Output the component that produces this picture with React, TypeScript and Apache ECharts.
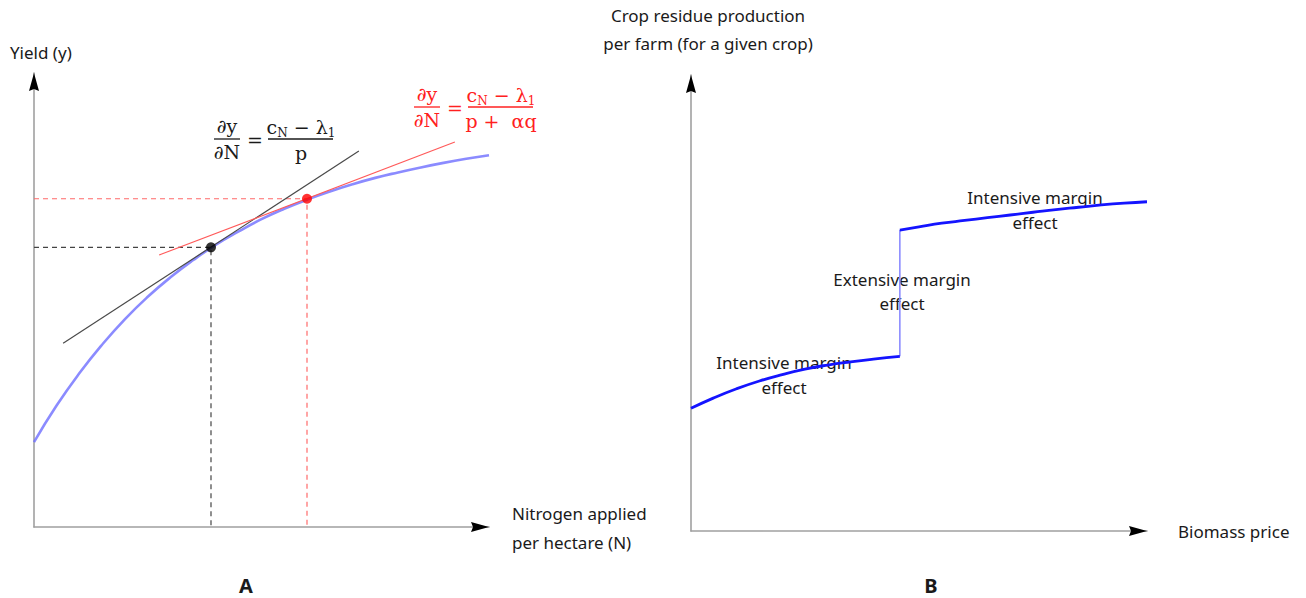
import React, { useEffect, useRef } from "react";
import * as echarts from "echarts";

// ---------- Panel A: yield response to nitrogen ----------
const yieldCurveX = [0, 0.5, 1, 1.5, 2, 2.5, 3, 3.5, 4, 4.5, 5, 5.5, 6, 6.5, 7, 7.5, 8, 8.5, 9, 9.5, 10];
const yieldCurveY = [1.87, 2.68, 3.39, 4.02, 4.58, 5.07, 5.5, 5.88, 6.22, 6.51, 6.78, 7.01, 7.21, 7.39, 7.55, 7.69, 7.81, 7.92, 8.02, 8.11, 8.19];
const blackPoint = [3.89, 6.16];
const redPoint = [6.0, 7.23];
const blackTangentX = [0.64, 7.14];
const blackTangentY = [4.05, 8.28];
const redTangentX = [2.75, 9.25];
const redTangentY = [5.99, 8.48];

// ---------- Panel B: crop residue supply ----------
const lowerCurveX = [0, 0.5, 1, 1.5, 2, 2.5, 3, 3.5, 4, 4.58];
const lowerCurveY = [2.69, 2.92, 3.12, 3.29, 3.43, 3.55, 3.64, 3.71, 3.77, 3.83];
const jumpX = [4.58, 4.58];
const jumpY = [3.83, 6.6];
const upperCurveX = [4.58, 5, 5.5, 6, 6.5, 7, 7.5, 8, 8.5, 9, 9.5, 10];
const upperCurveY = [6.6, 6.67, 6.75, 6.81, 6.87, 6.93, 6.99, 7.05, 7.1, 7.15, 7.19, 7.22];

const labelsA = {
  yAxis: "Yield (y)",
  xAxis1: "Nitrogen applied",
  xAxis2: "per hectare (N)",
  panel: "A",
};
const labelsB = {
  yAxis1: "Crop residue production",
  yAxis2: "per farm (for a given crop)",
  xAxis: "Biomass price",
  intensive: "Intensive margin",
  extensive: "Extensive margin",
  effect: "effect",
  panel: "B",
};

const zip = (xs: number[], ys: number[]) => xs.map((x, i) => [x, ys[i]]);

const SANS = '"Noto Sans", sans-serif';
const MATH = '"DejaVu Serif", serif';
const TXT = "#1a1a1a";
const MFS = 19;

function label(text: string, x: number, y: number, align = "left", size = 17, weight = "normal") {
  return {
    type: "text",
    x,
    y,
    z: 0,
    style: {
      text,
      fill: TXT,
      font: `${weight} ${size}px ${SANS}`,
      textAlign: align,
      textVerticalAlign: "middle",
    },
  };
}

function mathText(text: string, x: number, y: number, color: string, rich = false) {
  const el: any = {
    type: "text",
    x,
    y,
    z: 10,
    style: {
      text,
      fill: color,
      font: `${MFS}px ${MATH}`,
      textAlign: "center",
      textVerticalAlign: "middle",
    },
  };
  if (rich) {
    el.style.rich = {
      m: { fontSize: MFS, fontFamily: MATH, fill: color, lineHeight: 24, verticalAlign: "middle" },
      s: { fontSize: 12, fontFamily: MATH, fill: color, lineHeight: 24, verticalAlign: "bottom" },
    };
  }
  return el;
}

function bar(x1: number, x2: number, y: number, color: string) {
  return {
    type: "line",
    z: 10,
    shape: { x1, y1: y, x2, y2: y },
    style: { stroke: color, lineWidth: 1.3 },
  };
}

function formula(cx: number, cy: number, color: string, den: string) {
  // cx: centre of the left fraction, cy: fraction bar y
  return [
    mathText("∂y", cx, cy - 13, color),
    bar(cx - 13, cx + 13, cy, color),
    mathText("∂N", cx, cy + 13, color),
    mathText("=", cx + 28, cy + 1, color),
    mathText("{m|c}{s|N}{m| − λ}{s|1}", cx + 74, cy - 12, color, true),
    bar(cx + 41, cx + 106, cy, color),
    mathText(den, cx + 74, cy + 14, color),
  ];
}

const axisBase = (gridIndex: number) => ({
  type: "value",
  gridIndex,
  min: 0,
  max: 10,
  axisTick: { show: false },
  axisLabel: { show: false },
  splitLine: { show: false },
});

const mainAxisLine = { show: true, onZero: false, lineStyle: { color: "#a0a0a0", width: 1.6 } };
const arrowAxisLine = {
  show: true,
  onZero: false,
  symbol: ["none", "path://M5 0 L10 18 L5 16 L0 18 Z"],
  symbolSize: [10, 18],
  symbolOffset: [0, -9],
  lineStyle: { color: "#000", width: 0 },
};

const option: any = {
  animation: false,
  backgroundColor: "#fff",
  grid: [
    { left: 34, top: 73, width: 455, height: 454 },
    { left: 691, top: 75, width: 456, height: 456 },
  ],
  xAxis: [
    { ...axisBase(0), position: "bottom", axisLine: mainAxisLine },
    { ...axisBase(0), position: "bottom", axisLine: arrowAxisLine },
    { ...axisBase(1), position: "bottom", axisLine: mainAxisLine },
    { ...axisBase(1), position: "bottom", axisLine: arrowAxisLine },
  ],
  yAxis: [
    { ...axisBase(0), position: "left", axisLine: mainAxisLine },
    { ...axisBase(0), position: "left", axisLine: arrowAxisLine },
    { ...axisBase(1), position: "left", axisLine: mainAxisLine },
    { ...axisBase(1), position: "left", axisLine: arrowAxisLine },
  ],
  series: [
    {
      type: "line",
      xAxisIndex: 0,
      yAxisIndex: 0,
      data: [[0, blackPoint[1]], blackPoint, [blackPoint[0], 0]],
      showSymbol: false,
      lineStyle: { color: "#444", width: 1.2, type: [5, 4] },
      z: 1,
    },
    {
      type: "line",
      xAxisIndex: 0,
      yAxisIndex: 0,
      data: [[0, redPoint[1]], redPoint, [redPoint[0], 0]],
      showSymbol: false,
      lineStyle: { color: "#ff6a6a", width: 1.2, type: [5, 4] },
      z: 1,
    },
    {
      type: "line",
      xAxisIndex: 0,
      yAxisIndex: 0,
      data: zip(yieldCurveX, yieldCurveY),
      smooth: true,
      showSymbol: false,
      lineStyle: { color: "rgba(110,110,255,0.8)", width: 2.6 },
      z: 2,
    },
    {
      type: "line",
      xAxisIndex: 0,
      yAxisIndex: 0,
      data: zip(blackTangentX, blackTangentY),
      showSymbol: false,
      lineStyle: { color: "#4a4a4a", width: 1.2 },
      z: 3,
    },
    {
      type: "line",
      xAxisIndex: 0,
      yAxisIndex: 0,
      data: zip(redTangentX, redTangentY),
      showSymbol: false,
      lineStyle: { color: "#ff5a5a", width: 1.2 },
      z: 3,
    },
    {
      type: "scatter",
      xAxisIndex: 0,
      yAxisIndex: 0,
      data: [blackPoint],
      symbolSize: 10,
      itemStyle: { color: "#000" },
      z: 4,
    },
    {
      type: "scatter",
      xAxisIndex: 0,
      yAxisIndex: 0,
      data: [redPoint],
      symbolSize: 10,
      itemStyle: { color: "#ff0000" },
      z: 4,
    },
    {
      type: "line",
      xAxisIndex: 2,
      yAxisIndex: 2,
      data: zip(lowerCurveX, lowerCurveY),
      smooth: true,
      showSymbol: false,
      lineStyle: { color: "#1414ff", width: 2.8 },
      z: 3,
    },
    {
      type: "line",
      xAxisIndex: 2,
      yAxisIndex: 2,
      data: zip(jumpX, jumpY),
      showSymbol: false,
      lineStyle: { color: "#8c8cff", width: 1.6 },
      z: 2,
    },
    {
      type: "line",
      xAxisIndex: 2,
      yAxisIndex: 2,
      data: zip(upperCurveX, upperCurveY),
      smooth: true,
      showSymbol: false,
      lineStyle: { color: "#1414ff", width: 2.8 },
      z: 3,
    },
  ],
  graphic: [
    label(labelsA.yAxis, 10, 52),
    label(labelsA.xAxis1, 512, 513),
    label(labelsA.xAxis2, 512, 542),
    label(labelsA.panel, 246, 585, "center", 20, "bold"),
    ...formula(227, 139, "#1a1a1a", "p"),
    ...formula(427, 107, "#ff2020", "p +  αq"),
    label(labelsB.yAxis1, 708, 15, "center"),
    label(labelsB.yAxis2, 708, 43, "center"),
    label(labelsB.xAxis, 1178, 531),
    label(labelsB.intensive, 1035, 197, "center"),
    label(labelsB.effect, 1035, 222, "center"),
    label(labelsB.extensive, 902, 279, "center"),
    label(labelsB.effect, 902, 303, "center"),
    label(labelsB.intensive, 784, 362, "center"),
    label(labelsB.effect, 784, 387, "center"),
    label(labelsB.panel, 931, 585, "center", 20, "bold"),
  ],
};

export default function App() {
  const ref = useRef<HTMLDivElement>(null);
  useEffect(() => {
    if (!ref.current) return;
    const chart = echarts.init(ref.current, null, { renderer: "svg" });
    chart.setOption(option);
    return () => chart.dispose();
  }, []);
  return (
    <div
      ref={ref}
      style={{ position: "absolute", left: 0, top: 0, width: 1306, height: 598, background: "#fff" }}
    />
  );
}
